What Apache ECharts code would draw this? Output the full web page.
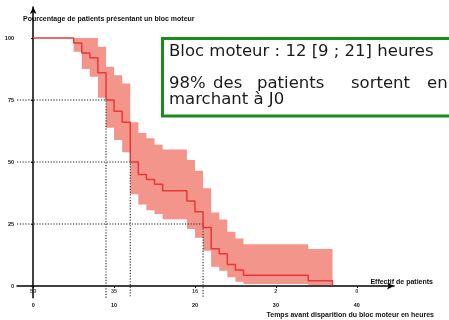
<!DOCTYPE html>
<html>
<head>
<meta charset="utf-8">
<script src="https://cdn.jsdelivr.net/npm/echarts@6/dist/echarts.min.js"></script>
<style>
html,body{margin:0;padding:0;background:#fff;}
#chart{width:449px;height:320px;}
</style>
</head>
<body>
<div id="chart"></div>
<script>
// Kaplan-Meier step data (time in hours, % patients with motor block)
var times    = [0, 5, 6, 7, 8, 9, 10, 11, 12, 13, 14, 15, 16, 19, 20, 21, 22, 23, 24, 25, 26, 34, 37];
var survival = [100, 98, 94, 92, 86, 75, 70.5, 66, 50, 45, 43, 41, 38.4, 34.3, 30, 23.6, 15, 13, 8.7, 6.5, 4.4, 2.1, 0.3];
var ciLower  = [100, 94.5, 87.5, 84.4, 75.9, 63.8, 58.9, 53.9, 37, 32.9, 30.6, 29, 26.9, 23, 19.5, 14.2, 7.8, 6.2, 3.5, 1.7, 0.8, 0.4, 0.4];
var ciUpper  = [100, 100, 100, 100, 96.5, 88.4, 85, 81.7, 66, 61.7, 59.6, 57, 55, 50.8, 46.5, 39.4, 29.7, 26.8, 21.9, 19.2, 16.8, 14.9, 14.9];
var xTicks = [0, 10, 20, 30, 40];
var yTicks = [0, 25, 50, 75, 100];
var atRiskTimes  = [0, 10, 20, 30, 40];
var atRiskCounts = [50, 35, 16, 2, 0];
var medianRefs = [[9, 75], [12, 50], [21, 25]];
var yTitle = 'Pourcentage de patients présentant un bloc moteur';
var xTitle = 'Temps avant disparition du bloc moteur en heures';
var atRiskTitle = 'Effectif de patients';
var boxLine1 = 'Bloc moteur : 12 [9 ; 21] heures';
var boxLine2Words = ['98%', 'des', 'patients', 'sortent', 'en'];
var boxLine3 = 'marchant à J0';

var X_MIN = -2, X_MAX = 44.6, Y_MIN = -4.7, Y_MAX = 112.5;
var smallFont = 'Liberation Sans, Arial, sans-serif';

var kmData = times.map(function (t, i) { return [t, survival[i]]; });

var refSeries = medianRefs.map(function (r) {
  return {
    type: 'line', silent: true, symbol: 'none', z: 3,
    data: [[X_MIN, r[1]], [r[0], r[1]], [r[0], Y_MIN]],
    lineStyle: { color: '#222', width: 1.1, type: [1.2, 1.6] }
  };
});

// confidence band as one stepped polygon built through the axis scales
function renderBand(params, api) {
  var pts = [];
  var n = times.length;
  for (var i = 0; i < n - 1; i++) {
    pts.push(api.coord([times[i], ciUpper[i]]));
    pts.push(api.coord([times[i + 1], ciUpper[i]]));
  }
  for (var j = n - 2; j >= 0; j--) {
    pts.push(api.coord([times[j + 1], ciLower[j]]));
    pts.push(api.coord([times[j], ciLower[j]]));
  }
  return { type: 'polygon', shape: { points: pts }, style: { fill: '#f3958a' } };
}

var chart = echarts.init(document.getElementById('chart'), null, { renderer: 'canvas' });
var line2X = [169, 213, 257, 351, 427];
var boxFont = '16.5px DejaVu Sans';
var graphics = [
  { type: 'text', left: 23, top: 16, style: { text: yTitle, font: 'bold 7px ' + smallFont, fill: '#111' } },
  { type: 'text', x: 434, y: 315, style: { text: xTitle, font: 'bold 7px ' + smallFont, fill: '#111', align: 'right', verticalAlign: 'middle' } },
  { type: 'text', x: 433, y: 282, style: { text: atRiskTitle, font: 'bold 7px ' + smallFont, fill: '#111', align: 'right', verticalAlign: 'middle' } },
  { type: 'rect', shape: { x: 162.5, y: 38.5, width: 300, height: 77.5 }, style: { fill: '#fff', stroke: '#1a8c1a', lineWidth: 3 }, z: 10 },
  { type: 'text', x: 169, y: 52, z: 11, style: { text: boxLine1, font: boxFont, fill: '#1a1a1a', verticalAlign: 'middle' } },
  { type: 'text', x: 169, y: 100, z: 11, style: { text: boxLine3, font: boxFont, fill: '#1a1a1a', verticalAlign: 'middle' } }
];
boxLine2Words.forEach(function (w, i) {
  graphics.push({ type: 'text', x: line2X[i], y: 84, z: 11, style: { text: w, font: boxFont, fill: '#1a1a1a', verticalAlign: 'middle' } });
});

chart.setOption({
  animation: false,
  grid: { left: 17, right: 55, top: 7, bottom: 22.3, containLabel: false },
  xAxis: {
    type: 'value', min: X_MIN, max: X_MAX,
    splitLine: { show: false },
    axisLine: { show: true, lineStyle: { color: '#000', width: 1.5 }, symbol: ['none', 'arrow'], symbolSize: [5, 7] },
    axisTick: { show: true, customValues: xTicks, length: 2, lineStyle: { color: '#000' } },
    axisLabel: { customValues: xTicks, fontSize: 5.5, fontWeight: 'bold', color: '#111', fontFamily: smallFont, margin: 5 }
  },
  yAxis: {
    type: 'value', min: Y_MIN, max: Y_MAX,
    splitLine: { show: false },
    axisLine: { show: true, lineStyle: { color: '#000', width: 1.5 }, symbol: ['none', 'arrow'], symbolSize: [5, 7] },
    axisTick: { show: true, customValues: yTicks, length: 2, lineStyle: { color: '#000' } },
    axisLabel: { customValues: yTicks, fontSize: 5.5, fontWeight: 'bold', color: '#111', fontFamily: smallFont, margin: 3 }
  },
  graphic: graphics,
  series: [
    { type: 'custom', silent: true, z: 1, renderItem: renderBand, data: [[times[0], ciUpper[0]]] }
  ].concat(refSeries).concat([
    { type: 'line', name: 'KM', step: 'end', symbol: 'none', data: kmData, lineStyle: { color: '#e8383a', width: 1.5 }, z: 5 },
    {
      type: 'scatter', symbolSize: 0, silent: true, z: 6,
      data: atRiskTimes.map(function (t, i) { return [t, -2, atRiskCounts[i]]; }),
      label: { show: true, position: 'inside', formatter: function (p) { return String(p.value[2]); }, fontSize: 5.5, fontWeight: 'bold', color: '#111', fontFamily: smallFont }
    }
  ])
});
</script>
</body>
</html>
